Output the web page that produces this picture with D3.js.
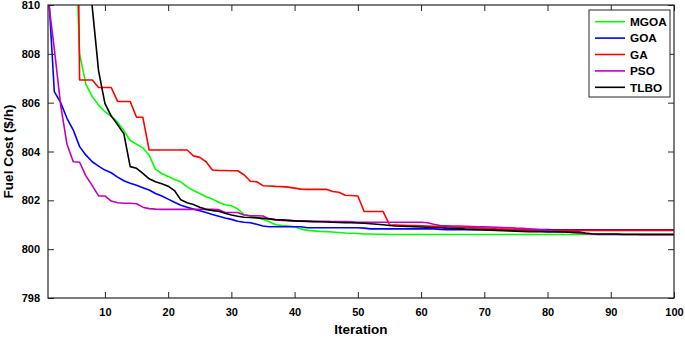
<!DOCTYPE html>
<html>
<head>
<meta charset="utf-8">
<script src="https://cdn.jsdelivr.net/npm/d3@7"></script>
<style>
  body { margin: 0; background: #fff; }
  text { font-family: "Liberation Sans", Arial, sans-serif; font-weight: bold; fill: #000; }
</style>
</head>
<body>
<div id="chart"></div>
<script>
(function() {

  // -----------------------------
  // 1. DATA
  // -----------------------------
  const iterations = d3.range(1, 101);
  const xTicks = [10, 20, 30, 40, 50, 60, 70, 80, 90, 100];
  const yTicks = [798, 800, 802, 804, 806, 808, 810];
  const seriesNames = ["MGOA", "GOA", "GA", "PSO", "TLBO"];
  const seriesColors = ["#00ff00", "#0000ff", "#ff0000", "#bf00bf", "#000000"];

  const mgoa = [
    830, 826, 822, 818, 815, 808.0, 806.75, 806.25, 805.9, 805.63,
    805.45, 805.2, 804.85, 804.45, 804.3, 804.15, 803.85, 803.27, 803.1, 802.98,
    802.85, 802.76, 802.55, 802.4, 802.28, 802.15, 802.05, 801.92, 801.82, 801.78,
    801.65, 801.42, 801.36, 801.31, 801.22, 801.12, 801.0, 800.97, 800.95, 800.92,
    800.83, 800.77, 800.75, 800.73, 800.72, 800.7, 800.68, 800.66, 800.65, 800.64,
    800.62, 800.62, 800.61, 800.61, 800.6, 800.6, 800.6, 800.6, 800.6, 800.6,
    800.6, 800.6, 800.6, 800.6, 800.6, 800.6, 800.6, 800.6, 800.6, 800.6,
    800.6, 800.6, 800.6, 800.6, 800.6, 800.6, 800.6, 800.6, 800.6, 800.6,
    800.6, 800.6, 800.6, 800.6, 800.6, 800.6, 800.6, 800.6, 800.6, 800.6,
    800.6, 800.6, 800.6, 800.6, 800.6, 800.6, 800.6, 800.6, 800.6, 800.6
  ];

  const goa = [
    810.9, 806.45, 806.0, 805.36, 804.88, 804.2, 803.85, 803.58, 803.4, 803.24,
    803.13, 802.95, 802.8, 802.7, 802.62, 802.52, 802.42, 802.28, 802.18, 802.05,
    801.92, 801.8, 801.72, 801.64, 801.57, 801.5, 801.42, 801.35, 801.28, 801.22,
    801.14, 801.1, 801.08, 801.02, 800.95, 800.92, 800.92, 800.92, 800.92, 800.92,
    800.92, 800.88, 800.88, 800.88, 800.88, 800.88, 800.88, 800.88, 800.88, 800.88,
    800.86, 800.83, 800.83, 800.83, 800.83, 800.83, 800.83, 800.83, 800.83, 800.83,
    800.83, 800.83, 800.81, 800.8, 800.8, 800.8, 800.8, 800.8, 800.8, 800.8,
    800.8, 800.8, 800.8, 800.8, 800.8, 800.8, 800.8, 800.8, 800.8, 800.8,
    800.79, 800.79, 800.79, 800.79, 800.79, 800.79, 800.79, 800.79, 800.79, 800.79,
    800.79, 800.79, 800.79, 800.79, 800.79, 800.79, 800.79, 800.79, 800.79, 800.79
  ];

  const ga = [
    830, 830, 830, 830, 830, 806.93, 806.93, 806.93, 806.62, 806.62,
    806.62, 806.05, 806.05, 806.05, 805.4, 805.4, 804.06, 804.06, 804.06, 804.06,
    804.06, 804.06, 804.06, 803.82, 803.76, 803.58, 803.24, 803.22, 803.22, 803.21,
    803.21, 803.05, 802.78, 802.76, 802.6, 802.59, 802.57, 802.56, 802.54, 802.5,
    802.46, 802.45, 802.45, 802.45, 802.45, 802.36, 802.33, 802.21, 802.2, 802.18,
    801.54, 801.54, 801.54, 801.54, 801.0, 800.99, 800.98, 800.97, 800.97, 800.96,
    800.95, 800.94, 800.93, 800.92, 800.91, 800.9, 800.89, 800.88, 800.87, 800.86,
    800.85, 800.83, 800.82, 800.81, 800.8, 800.79, 800.78, 800.77, 800.77, 800.77,
    800.77, 800.77, 800.77, 800.77, 800.77, 800.77, 800.77, 800.77, 800.77, 800.77,
    800.77, 800.77, 800.77, 800.77, 800.77, 800.77, 800.77, 800.77, 800.77, 800.77
  ];

  const pso = [
    810.3, 808.2, 805.9, 804.3, 803.58, 803.56, 803.0, 802.6, 802.18, 802.18,
    801.97, 801.9, 801.88, 801.88, 801.86, 801.72, 801.66, 801.64, 801.63, 801.63,
    801.63, 801.63, 801.63, 801.63, 801.63, 801.63, 801.63, 801.62, 801.5, 801.5,
    801.5, 801.4, 801.37, 801.37, 801.36, 801.24, 801.2, 801.18, 801.17, 801.16,
    801.15, 801.15, 801.14, 801.14, 801.14, 801.13, 801.13, 801.13, 801.12, 801.1,
    801.1, 801.1, 801.1, 801.1, 801.1, 801.1, 801.1, 801.1, 801.1, 801.1,
    801.08, 801.02, 800.97, 800.96, 800.95, 800.95, 800.94, 800.93, 800.92, 800.92,
    800.91, 800.9, 800.89, 800.88, 800.86, 800.85, 800.83, 800.81, 800.79, 800.76,
    800.74, 800.72, 800.7, 800.67, 800.65, 800.63, 800.62, 800.6, 800.6, 800.6,
    800.6, 800.59, 800.59, 800.59, 800.58, 800.58, 800.58, 800.58, 800.58, 800.58
  ];

  const tlbo = [
    830, 828, 826, 824, 822, 820, 814, 809.9, 807.3, 805.97,
    805.45, 805.1, 804.72, 803.38, 803.31, 803.1, 802.88, 802.76, 802.68, 802.58,
    802.4, 802.02, 801.9, 801.83, 801.72, 801.63, 801.58, 801.55, 801.47, 801.4,
    801.35, 801.31, 801.3, 801.28, 801.26, 801.24, 801.21, 801.2, 801.18, 801.16,
    801.15, 801.14, 801.13, 801.12, 801.11, 801.1, 801.09, 801.08, 801.08, 801.07,
    801.06, 801.04, 801.02, 801.0, 800.97, 800.95, 800.94, 800.93, 800.92, 800.91,
    800.9, 800.89, 800.88, 800.86, 800.85, 800.84, 800.82, 800.81, 800.8, 800.79,
    800.78, 800.77, 800.76, 800.75, 800.74, 800.73, 800.72, 800.72, 800.72, 800.71,
    800.71, 800.71, 800.7, 800.7, 800.7, 800.66, 800.63, 800.62, 800.62, 800.62,
    800.62, 800.61, 800.61, 800.61, 800.61, 800.61, 800.61, 800.61, 800.61, 800.61
  ];

  const seriesValues = [mgoa, goa, ga, pso, tlbo];

  // -----------------------------
  // 2. SVG SETUP
  // -----------------------------
  const width = 685, height = 339;
  const margin = {top: 5, right: 11, bottom: 41, left: 48};
  const innerW = width - margin.left - margin.right;
  const innerH = height - margin.top - margin.bottom;
  const axisColor = "#262626";

  const svg = d3.select("#chart").append("svg")
      .attr("width", width)
      .attr("height", height);

  const g = svg.append("g")
      .attr("transform", `translate(${margin.left},${margin.top})`);

  const x = d3.scaleLinear().domain([1, 100]).range([0, innerW]);
  const y = d3.scaleLinear().domain([798, 810]).range([innerH, 0]);

  svg.append("defs").append("clipPath").attr("id", "plot-clip")
    .append("rect").attr("width", innerW).attr("height", innerH);

  // -----------------------------
  // 3. LINES
  // -----------------------------
  const line = d3.line()
      .x((d, i) => x(iterations[i]))
      .y(d => y(d));

  g.append("g").attr("clip-path", "url(#plot-clip)")
    .selectAll("path")
    .data(seriesValues)
    .enter().append("path")
      .attr("d", d => line(d))
      .attr("fill", "none")
      .attr("stroke", (d, i) => seriesColors[i])
      .attr("stroke-width", 1.6)
      .attr("stroke-linejoin", "round");

  // -----------------------------
  // 4. AXES (MATLAB style box)
  // -----------------------------
  const tick = 6;
  const fmt = d3.format("d");
  g.append("g").attr("transform", `translate(0,${innerH})`)
    .call(d3.axisBottom(x).tickValues(xTicks).tickSizeInner(-tick).tickSizeOuter(0).tickPadding(10).tickFormat(fmt));
  g.append("g")
    .call(d3.axisTop(x).tickValues(xTicks).tickSizeInner(-tick).tickSizeOuter(0).tickFormat(""));
  g.append("g")
    .call(d3.axisLeft(y).tickValues(yTicks).tickSizeInner(-tick).tickSizeOuter(0).tickPadding(8).tickFormat(fmt));
  g.append("g").attr("transform", `translate(${innerW},0)`)
    .call(d3.axisRight(y).tickValues(yTicks).tickSizeInner(-tick).tickSizeOuter(0).tickFormat(""));

  g.selectAll(".domain").remove();
  g.selectAll(".tick line").attr("stroke", axisColor);
  g.selectAll(".tick text").attr("font-size", 11).attr("fill", "#000")
    .style("font-family", "'Liberation Sans', Arial, sans-serif").style("font-weight", "bold");

  g.append("rect")
      .attr("width", innerW).attr("height", innerH)
      .attr("fill", "none").attr("stroke", axisColor).attr("stroke-width", 1.2);

  // axis titles
  svg.append("text")
      .attr("x", margin.left + innerW / 2)
      .attr("y", 334)
      .attr("text-anchor", "middle")
      .attr("font-size", 13.5)
      .text("Iteration");

  svg.append("text")
      .attr("transform", `translate(13,${margin.top + innerH / 2}) rotate(-90)`)
      .attr("text-anchor", "middle")
      .attr("font-size", 13.5)
      .text("Fuel Cost ($/h)");

  // -----------------------------
  // 5. LEGEND
  // -----------------------------
  const legend = svg.append("g").attr("transform", "translate(589,10)");
  legend.append("rect")
      .attr("width", 81).attr("height", 87)
      .attr("fill", "#fff").attr("stroke", axisColor).attr("stroke-width", 1);

  const item = legend.selectAll(".item")
      .data(seriesNames)
      .enter().append("g")
      .attr("transform", (d, i) => `translate(0,${11.7 + i * 16.4})`);

  item.append("line")
      .attr("x1", 6).attr("x2", 36)
      .attr("stroke", (d, i) => seriesColors[i])
      .attr("stroke-width", 1.6);

  item.append("text")
      .attr("x", 41).attr("dy", "0.36em")
      .attr("font-size", 11.8)
      .text(d => d);

})();
</script>
</body>
</html>
